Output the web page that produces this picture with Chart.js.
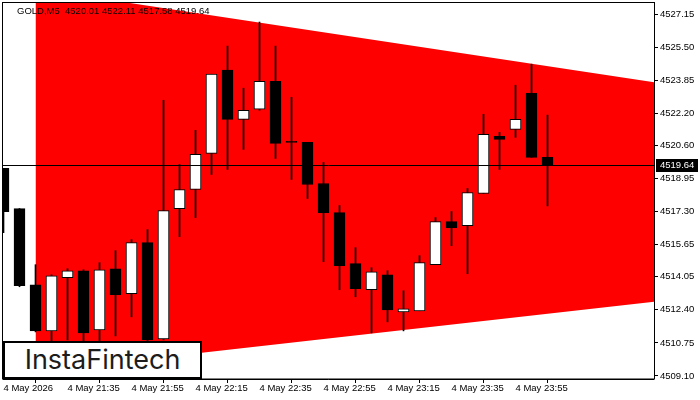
<!DOCTYPE html>
<html>
<head>
<meta charset="utf-8">
<script src="https://cdn.jsdelivr.net/npm/chart.js@4.4.1/dist/chart.umd.min.js"></script>
<style>
html,body{margin:0;padding:0;background:#fff;}
#wrap{position:relative;width:700px;height:400px;}
#logo{position:absolute;left:3px;top:341px;width:195px;height:34px;border:2px solid #000;background:#fff;
  font:27px Inter,"Noto Sans",sans-serif;color:#1c1c1c;text-align:center;line-height:34px;}
</style>
</head>
<body>
<div id="wrap">
  <canvas id="c" width="700" height="400"></canvas>
  <div id="logo">InstaFintech</div>
</div>
<script>
// GOLD M5 candles (one per 5 min, index 0 = 21:15)
const SYMBOL = 'GOLD,M5';
const OPEN  = [4519.45,4517.45,4513.65,4511.35,4514.00,4514.35,4511.40,4514.45,4513.20,4515.75,
               4510.95,4517.45,4518.40,4520.20,4524.35,4521.90,4522.40,4523.80,4520.75,4520.75,
               4518.70,4517.25,4514.70,4513.40,4514.15,4512.30,4512.35,4514.65,4516.80,4516.60,
               4518.20,4521.05,4521.40,4523.20,4520.01];
const HIGH  = [4519.45,4517.45,4514.65,4514.15,4514.45,4514.40,4514.75,4515.35,4515.90,4516.40,
               4522.85,4519.65,4521.35,4524.15,4525.55,4523.45,4526.75,4525.55,4523.00,4520.75,
               4519.75,4517.60,4515.50,4514.50,4514.35,4513.35,4515.10,4517.00,4517.30,4518.45,
               4522.15,4521.25,4523.60,4524.65,4522.11];
const LOW   = [4516.25,4513.55,4511.30,4510.85,4510.90,4510.85,4510.85,4511.10,4512.05,4510.80,
               4510.90,4516.05,4517.00,4519.15,4519.40,4520.40,4522.35,4519.95,4518.90,4517.95,
               4514.80,4513.40,4513.05,4511.25,4511.80,4511.35,4512.35,4514.65,4515.60,4514.20,
               4518.20,4519.40,4521.00,4520.00,4517.58];
const CLOSE = [4517.30,4513.60,4511.35,4514.10,4514.35,4511.25,4514.40,4513.15,4515.75,4510.90,
               4517.35,4518.40,4520.15,4524.15,4521.90,4522.35,4523.80,4520.70,4520.75,4518.65,
               4517.25,4514.60,4513.45,4514.30,4512.40,4512.45,4514.75,4516.80,4516.50,4518.25,
               4521.15,4520.90,4521.90,4520.00,4519.64];

const X_TICK_POS = [0,4,8,12,16,20,24,28,32];
const X_LABELS = ['4 May 2026','4 May 21:35','4 May 21:55','4 May 22:15','4 May 22:35',
                  '4 May 22:55','4 May 23:15','4 May 23:35','4 May 23:55'];
const Y_TICKS = [4527.15,4525.50,4523.85,4522.20,4520.60,4518.95,4517.30,4515.65,4514.05,4512.40,4510.75,4509.10];

// triangle pattern (converging lines)
const TRI_X = [2, 40.66];
const TRI_TOP = [4528.41, 4523.75];
const TRI_BOTTOM = [4509.33, 4512.80];

const LAST = OPEN.length - 1;
const LAST_PRICE = CLOSE[LAST];

const FONT = {family: '"Liberation Sans", Arial, sans-serif', size: 9.5};

const idx = OPEN.map((_, i) => i);
const wicks = idx.map(i => ({x: i, y: [LOW[i], HIGH[i]]}));
const bodies = idx.map(i => ({x: i, y: [OPEN[i], CLOSE[i]]}));
const bodyFill = idx.map(i => CLOSE[i] > OPEN[i] ? '#ffffff' : '#000000');

const overlay = {
  id: 'overlay',
  afterDatasetsDraw(chart){
    const {ctx, chartArea: a, scales} = chart;
    const py = Math.round(scales.y.getPixelForValue(LAST_PRICE)) + 0.5;
    ctx.save();
    ctx.strokeStyle = '#000';
    ctx.lineWidth = 1;
    ctx.beginPath();
    ctx.moveTo(a.left, py); ctx.lineTo(a.right, py);
    ctx.stroke();
    // frame
    ctx.strokeRect(a.left - 0.5, a.top - 0.5, a.right - a.left + 1, a.bottom - a.top + 0.5);
    ctx.beginPath();
    ctx.moveTo(a.left, a.bottom + 0.5); ctx.lineTo(a.right, a.bottom + 0.5);
    ctx.stroke();
    // header
    ctx.fillStyle = '#000';
    ctx.font = FONT.size + 'px ' + FONT.family;
    ctx.textBaseline = 'middle';
    ctx.textAlign = 'left';
    const hdr = SYMBOL + '  ' + [OPEN[LAST], HIGH[LAST], LOW[LAST], CLOSE[LAST]].map(v => v.toFixed(2)).join(' ');
    ctx.fillText(hdr, 17, 11);
    ctx.restore();
  },
  afterDraw(chart){
    const {ctx, chartArea: a, scales} = chart;
    const py = Math.round(scales.y.getPixelForValue(LAST_PRICE));
    ctx.save();
    ctx.fillStyle = '#000';
    ctx.fillRect(a.right + 2, py - 6, 42, 13);
    ctx.fillStyle = '#fff';
    ctx.font = FONT.size + 'px ' + FONT.family;
    ctx.textBaseline = 'middle';
    ctx.fillText(LAST_PRICE.toFixed(2), a.right + 6, py + 0.5);
    ctx.restore();
  }
};

new Chart(document.getElementById('c'), {
  type: 'bar',
  data: {
    datasets: [
      {type: 'line', data: TRI_X.map((x, k) => ({x, y: TRI_TOP[k]})), fill: '+1',
       backgroundColor: '#ff0000', borderColor: 'rgba(0,0,0,0)', borderWidth: 0, pointRadius: 0, order: 3, clip: 0},
      {type: 'line', data: TRI_X.map((x, k) => ({x, y: TRI_BOTTOM[k]})), fill: false,
       borderColor: 'rgba(0,0,0,0)', borderWidth: 0, pointRadius: 0, order: 4, clip: 0},
      {data: wicks, backgroundColor: '#000', borderWidth: 0, barThickness: 1, grouped: false, order: 2, clip: 0},
      {data: bodies, backgroundColor: bodyFill, borderColor: '#000', borderWidth: 1, borderSkipped: false,
       barThickness: 11, minBarLength: 1, grouped: false, order: 1, clip: 0}
    ]
  },
  options: {
    responsive: false,
    animation: false,
    devicePixelRatio: 1,
    layout: {padding: {left: 3, top: 3, right: 0, bottom: 0}, autoPadding: false},
    plugins: {legend: {display: false}, tooltip: {enabled: false}},
    scales: {
      x: {
        type: 'linear', min: -0.03125, max: 40.65625, offset: false,
        grid: {display: true, drawOnChartArea: false, drawTicks: true, tickLength: 4, color: '#000'},
        border: {display: false},
        ticks: {align: 'start', autoSkip: false, maxRotation: 0, padding: 0, color: '#000', font: FONT,
                callback: (v, i) => X_LABELS[i]},
        afterBuildTicks: s => { s.ticks = X_TICK_POS.map(v => ({value: v})); },
        afterFit: s => { s.height = 21; s.paddingLeft = 0; s.paddingRight = 0; }
      },
      y: {
        type: 'linear', position: 'right', min: 4508.95, max: 4527.70,
        grid: {display: true, drawOnChartArea: false, drawTicks: true, tickLength: 4, color: '#000'},
        border: {display: false},
        ticks: {padding: 2, color: '#000', font: FONT, callback: v => Number(v).toFixed(2)},
        afterBuildTicks: s => { s.ticks = Y_TICKS.map(v => ({value: v})); },
        afterFit: s => { s.width = 46; s.paddingTop = 0; s.paddingBottom = 0; }
      }
    }
  },
  plugins: [overlay]
});
</script>
</body>
</html>
